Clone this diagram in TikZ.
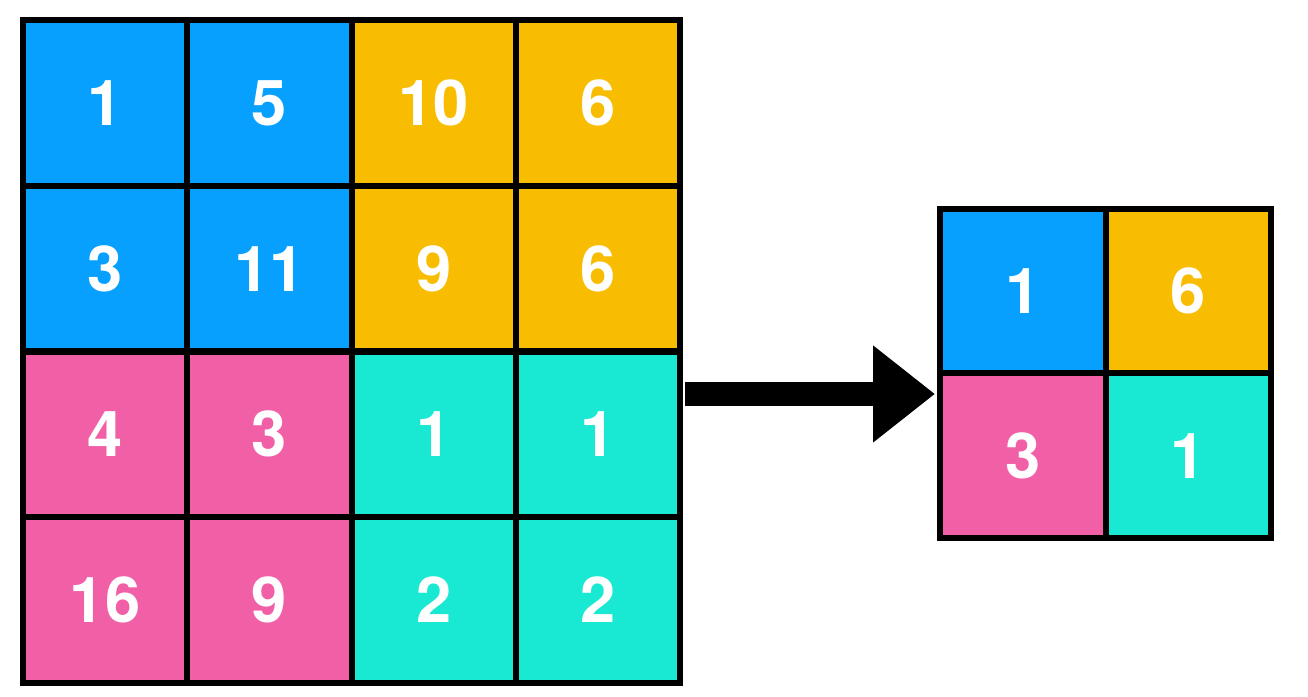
\documentclass[tikz,border=0pt]{standalone}
\usepackage{fontspec}
\setsansfont{TeX Gyre Heros}
\usetikzlibrary{arrows.meta}
\definecolor{cblue}{HTML}{08A0FF}
\definecolor{cyellow}{HTML}{F8BC00}
\definecolor{cpink}{HTML}{F160A6}
\definecolor{cteal}{HTML}{19E8D2}
\begin{document}
\begin{tikzpicture}[every node/.style={font=\sffamily\bfseries\fontsize{18}{20}\selectfont, text=white},
    cellbox/.style={draw=black, line width=0.06cm, minimum width=1.6425cm, minimum height=1.6575cm, inner sep=0pt},
    smallbox/.style={cellbox, minimum width=1.655cm, minimum height=1.645cm}]
  \useasboundingbox (0,0) rectangle (13.08,6.97);

  % input grid
  \foreach \v/\c [count=\j] in {1/cblue, 5/cblue, 10/cyellow, 6/cyellow}
    \node[cellbox, fill=\c] (a-1-\j) at ({0.23+1.6425*(\j-0.5)}, 5.941) {\v};
  \foreach \v/\c [count=\j] in {3/cblue, 11/cblue, 9/cyellow, 6/cyellow}
    \node[cellbox, fill=\c] (a-2-\j) at ({0.23+1.6425*(\j-0.5)}, 4.284) {\v};
  \foreach \v/\c [count=\j] in {4/cpink, 3/cpink, 1/cteal, 1/cteal}
    \node[cellbox, fill=\c] (a-3-\j) at ({0.23+1.6425*(\j-0.5)}, 2.626) {\v};
  \foreach \v/\c [count=\j] in {16/cpink, 9/cpink, 2/cteal, 2/cteal}
    \node[cellbox, fill=\c] (a-4-\j) at ({0.23+1.6425*(\j-0.5)}, 0.969) {\v};

  % pooled grid
  \node[smallbox, fill=cblue] (b-1-1) at (10.228,4.058) {1};
  \node[smallbox, fill=cyellow] (b-1-2) at (11.883,4.058) {6};
  \node[smallbox, fill=cpink] (b-2-1) at (10.228,2.413) {3};
  \node[smallbox, fill=cteal] (b-2-2) at (11.883,2.413) {1};

  % arrow
  \coordinate (src) at (6.85,3.03);
  \coordinate (dst) at (9.35,3.03);
  \draw[line width=0.24cm, -{Triangle[length=0.62cm, width=0.93cm]}] (src) -- (dst);
\end{tikzpicture}
\end{document}
